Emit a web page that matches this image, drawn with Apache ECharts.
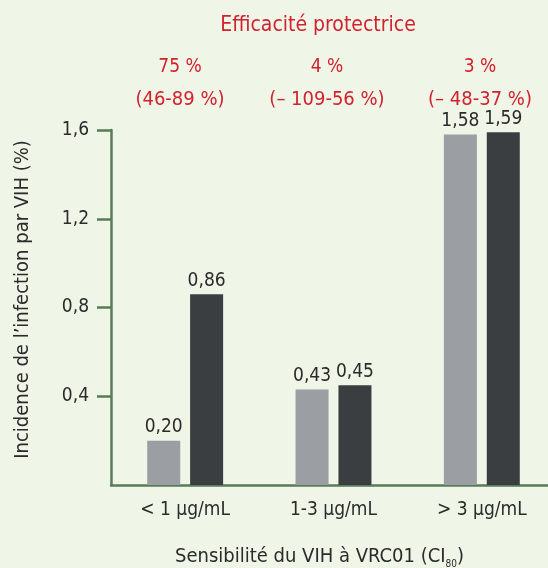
<!DOCTYPE html>
<html><head><meta charset="utf-8">
<script src="https://cdn.jsdelivr.net/npm/echarts@6/dist/echarts.min.js"></script>
<style>html,body{margin:0;padding:0;background:#eff5e7;}#c{width:548px;height:568px;}</style>
</head><body><div id="c"></div>
<script>
const categories = ['< 1 μg/mL', '1-3 μg/mL', '> 3 μg/mL'];
const seriesGrey = [0.20, 0.43, 1.58];
const seriesDark = [0.86, 0.45, 1.59];
const efficacy = ['75 %', '4 %', '3 %'];
const intervals = ['(46-89 %)', '(– 109-56 %)', '(– 48-37 %)'];
const yTicks = [0.4, 0.8, 1.2, 1.6];

const FONT = "'DejaVu Sans Condensed', 'Liberation Sans Narrow', sans-serif";
const RED = '#d2222e';
const GREEN = '#5b7b58';
const TXT = '#2b2b2b';
const fmt = v => v.toFixed(2).replace('.', ',');

const chart = echarts.init(document.getElementById('c'));
const effX = [180, 327, 480];
const graphics = [
  { type: 'text', x: 318, y: 15, style: { text: 'Efficacité protectrice', fill: RED, font: '21px ' + FONT, textAlign: 'center' } }
];
efficacy.forEach((t, i) => {
  graphics.push({ type: 'text', x: effX[i], y: 58, style: { text: t, fill: RED, font: '19px ' + FONT, textAlign: 'center' } });
  graphics.push({ type: 'text', x: effX[i], y: 90, style: { text: intervals[i], fill: RED, font: '20px ' + FONT, textAlign: 'center' } });
});

chart.setOption({
  backgroundColor: '#eff5e7',
  animation: false,
  grid: { left: 111, right: -8, top: 130, bottom: 83, containLabel: false, outerBoundsMode: 'none' },
  xAxis: {
    type: 'category', data: categories,
    axisLine: { lineStyle: { color: GREEN, width: 2.5 } },
    axisTick: { show: false },
    axisLabel: { color: TXT, fontFamily: FONT, fontSize: 19, margin: 16 },
    name: '{a|Sensibilité du VIH à VRC01 (CI}{s|80}{a|)}',
    nameLocation: 'middle', nameGap: 60,
    nameTextStyle: { padding: [0, 0, 0, -28], rich: {
      a: { fontFamily: FONT, fontSize: 20, color: TXT },
      s: { fontFamily: FONT, fontSize: 10, color: TXT, padding: [14, 0, 0, 0] }
    } }
  },
  yAxis: {
    type: 'value', min: 0, max: 1.6, interval: 0.4,
    axisLine: { show: true, lineStyle: { color: GREEN, width: 2.5 } },
    axisTick: { show: true, length: 14, customValues: yTicks, lineStyle: { color: GREEN, width: 2.5 } },
    splitLine: { show: false },
    axisLabel: { color: TXT, fontFamily: FONT, fontSize: 19, margin: 22, customValues: yTicks,
      formatter: v => v.toFixed(1).replace('.', ',') },
    name: 'Incidence de l\u2019infection par VIH (%)',
    nameLocation: 'middle', nameGap: 78, nameRotate: 90,
    nameTextStyle: { color: TXT, fontFamily: FONT, fontSize: 20, padding: [0, 0, 0, 16] }
  },
  series: [
    { type: 'bar', data: seriesGrey, barWidth: 33, barGap: '30%',
      itemStyle: { color: '#9b9ea2' },
      label: { show: true, position: 'top', distance: 4, color: TXT, fontFamily: FONT, fontSize: 19, formatter: p => fmt(p.value) } },
    { type: 'bar', data: seriesDark, barWidth: 33, barGap: '30%',
      itemStyle: { color: '#3b3e41' },
      label: { show: true, position: 'top', distance: 4, color: TXT, fontFamily: FONT, fontSize: 19, formatter: p => fmt(p.value) } }
  ],
  graphic: graphics
});
</script></body></html>
